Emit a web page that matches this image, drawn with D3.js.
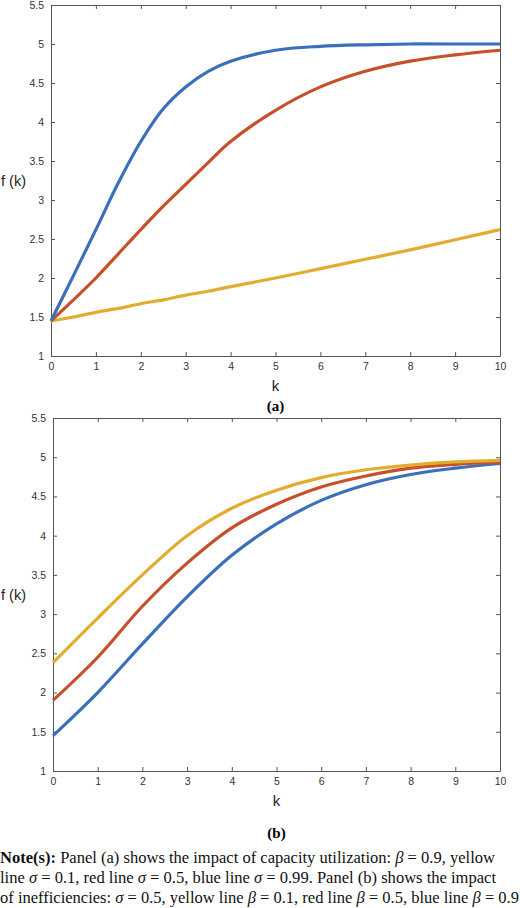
<!DOCTYPE html>
<html><head><meta charset="utf-8">
<script src="https://cdn.jsdelivr.net/npm/d3@7"></script>
<style>body{margin:0;background:#fff}</style>
</head><body><svg id="c" width="520" height="908"></svg>
<script>
// panel (a): capacity utilization
var kA = [0, 0.5, 1, 1.5, 2, 2.5, 3, 3.5, 4, 5, 6, 7, 8, 9, 10];
var blueA = [1.45, 2.03, 2.62, 3.22, 3.75, 4.17, 4.45, 4.65, 4.78, 4.92, 4.97, 4.99, 5.0, 5.0, 5.0];
var redA = [1.45, 1.72, 2.0, 2.31, 2.62, 2.92, 3.2, 3.48, 3.75, 4.15, 4.45, 4.65, 4.78, 4.86, 4.92];
var yellowA = [1.45, 1.5, 1.56, 1.61, 1.67, 1.72, 1.78, 1.83, 1.89, 2.0, 2.12, 2.24, 2.36, 2.49, 2.62];
// panel (b): inefficiencies
var kB = [0, 1, 2, 3, 4, 5, 6, 7, 8, 9, 10];
var yellowB = [2.38, 2.95, 3.5, 4.0, 4.35, 4.58, 4.74, 4.84, 4.9, 4.94, 4.96];
var redB = [1.9, 2.45, 3.1, 3.65, 4.1, 4.4, 4.62, 4.76, 4.86, 4.91, 4.94];
var blueB = [1.45, 2.0, 2.62, 3.22, 3.75, 4.15, 4.45, 4.65, 4.78, 4.86, 4.92];
var xTicks = [0, 1, 2, 3, 4, 5, 6, 7, 8, 9, 10];
var yTicks = [1, 1.5, 2, 2.5, 3, 3.5, 4, 4.5, 5, 5.5];
var colors = {blue: '#3a6fbb', red: '#c6502a', yellow: '#e2ad2e'};

var svg = d3.select('#c');
var fmt = d3.format('~g');

function panel(k, series, box, label){
  var x = d3.scaleLinear().domain([0, 10]).range([box.l, box.r]);
  var y = d3.scaleLinear().domain([1, 5.5]).range([box.b, box.t]);
  var g = svg.append('g').attr('font-family', 'Liberation Sans, Arial, sans-serif');
  var ax = function(a){ a.select('.domain').attr('stroke', '#555'); a.selectAll('line').attr('stroke', '#555'); a.selectAll('text').attr('fill', '#333').attr('font-size', 10.5); };
  g.append('g').attr('transform', 'translate(0,' + box.b + ')')
    .call(d3.axisBottom(x).tickValues(xTicks).tickFormat(fmt).tickSizeInner(-4).tickSizeOuter(0).tickPadding(7)).call(ax);
  g.append('g').attr('transform', 'translate(0,' + box.t + ')')
    .call(d3.axisTop(x).tickValues(xTicks).tickSizeInner(-4).tickSizeOuter(0).tickFormat('')).call(ax);
  g.append('g').attr('transform', 'translate(' + box.l + ',0)')
    .call(d3.axisLeft(y).tickValues(yTicks).tickFormat(fmt).tickSizeInner(-4).tickSizeOuter(0).tickPadding(7)).call(ax);
  g.append('g').attr('transform', 'translate(' + box.r + ',0)')
    .call(d3.axisRight(y).tickValues(yTicks).tickSizeInner(-4).tickSizeOuter(0).tickFormat('')).call(ax);
  var line = d3.line().x(function(d){ return x(d[0]); }).y(function(d){ return y(d[1]); }).curve(d3.curveCatmullRom.alpha(0.5));
  series.forEach(function(s){
    g.append('path').attr('d', line(k.map(function(v, i){ return [v, s.v[i]]; })))
      .attr('fill', 'none').attr('stroke', s.c).attr('stroke-width', 3.2);
  });
  g.append('text').attr('x', (box.l + box.r) / 2).attr('y', box.b + 35).attr('text-anchor', 'middle')
    .attr('font-size', 15).attr('fill', '#222').text('k');
  g.append('text').attr('x', 1).attr('y', (box.t + box.b) / 2 + 5)
    .attr('font-size', 14.5).attr('fill', '#222').text('f (k)');
  svg.append('text').attr('x', (box.l + box.r) / 2).attr('y', box.b + label.dy).attr('text-anchor', 'middle')
    .attr('font-family', 'Liberation Serif, serif').attr('font-weight', 'bold').attr('font-size', 15).text(label.t);
}

panel(kA, [{v: yellowA, c: colors.yellow}, {v: redA, c: colors.red}, {v: blueA, c: colors.blue}],
  {l: 51, r: 500, t: 5, b: 356}, {t: '(a)', dy: 55});
panel(kB, [{v: blueB, c: colors.blue}, {v: redB, c: colors.red}, {v: yellowB, c: colors.yellow}],
  {l: 53, r: 500, t: 418, b: 771}, {t: '(b)', dy: 67});

var notes = [
  '<tspan font-weight="bold">Note(s):</tspan> Panel (a) shows the impact of capacity utilization: <tspan font-style="italic">β</tspan> = 0.9, yellow',
  'line <tspan font-style="italic">σ</tspan> = 0.1, red line <tspan font-style="italic">σ</tspan> = 0.5, blue line <tspan font-style="italic">σ</tspan> = 0.99. Panel (b) shows the impact',
  'of inefficiencies: <tspan font-style="italic">σ</tspan> = 0.5, yellow line <tspan font-style="italic">β</tspan> = 0.1, red line <tspan font-style="italic">β</tspan> = 0.5, blue line <tspan font-style="italic">β</tspan> = 0.9'
];
var noteWidths = [495, 496, 519];
svg.selectAll('text.note').data(notes).enter().append('text').attr('class', 'note')
  .attr('x', 0).attr('y', function(d, i){ return 863 + i * 20; })
  .attr('font-family', 'Liberation Serif, serif').attr('font-size', 16).attr('fill', '#111')
  .attr('textLength', function(d, i){ return noteWidths[i]; }).attr('lengthAdjust', 'spacingAndGlyphs')
  .html(function(d){ return d; });
</script></body></html>
